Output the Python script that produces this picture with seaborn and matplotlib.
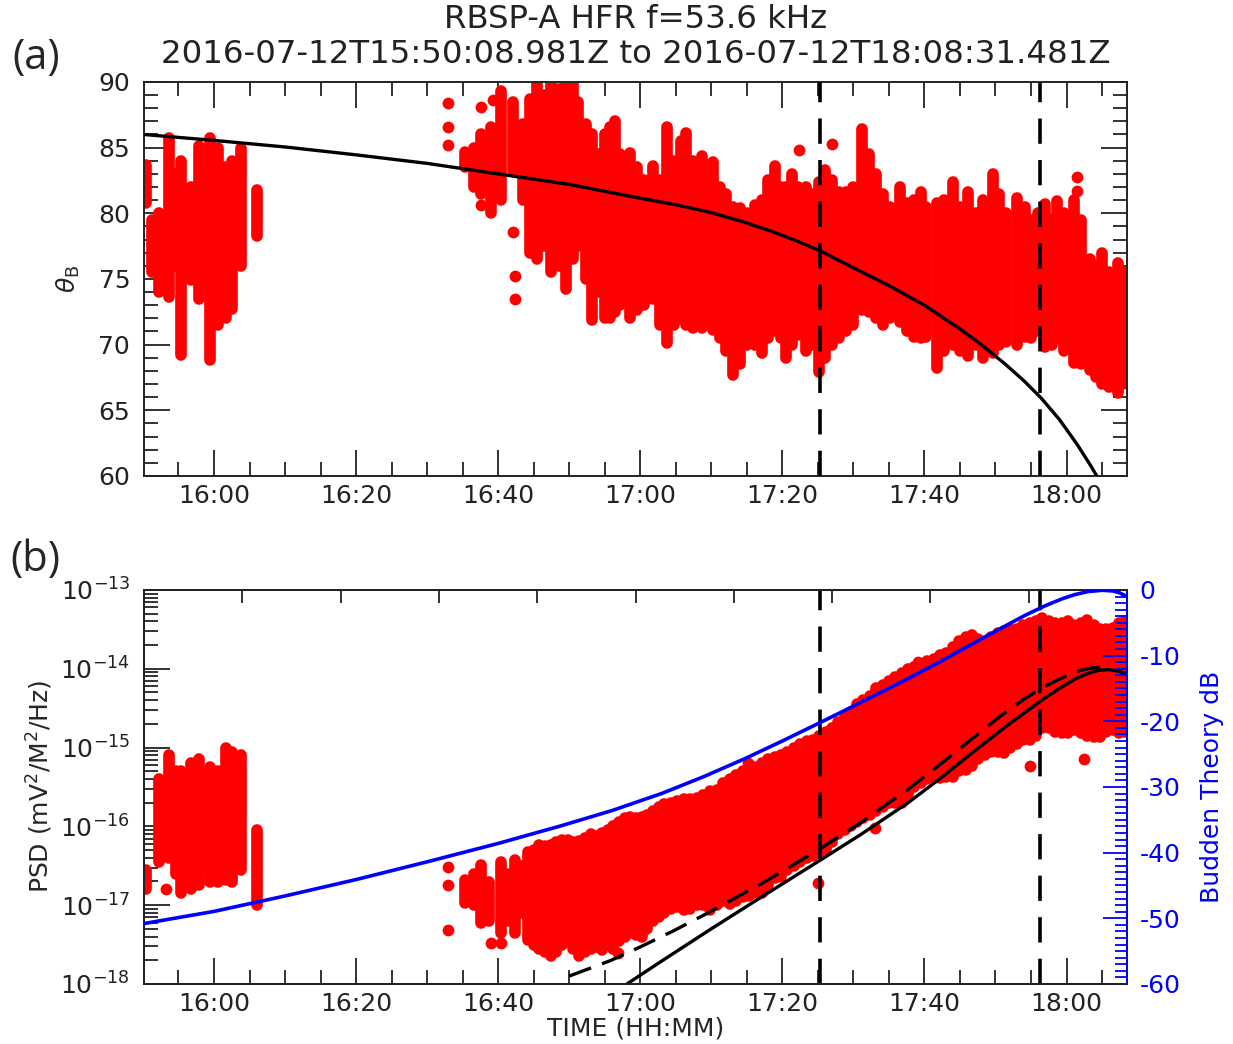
import numpy as np
import pandas as pd
import matplotlib
matplotlib.use("Agg")
import matplotlib.pyplot as plt
import matplotlib.dates as mdates
import matplotlib.ticker as mticker
import seaborn as sns

# =======================
# Data (times in minutes after 15:00 UT)
# =======================
DAY = pd.Timestamp("2016-07-12 15:00:00")
T_START = pd.Timestamp("2016-07-12 15:50:08.981")
T_END = pd.Timestamp("2016-07-12 18:08:31.481")

# panel (a): theta_B streaks (time, low, high)
THETA_COLS = [
    (50.4, 80.8, 83.7), (51.3, 75.5, 79.5), (52.2, 74.0, 80.0), (53.7, 73.6, 85.7),
    (54.6, 76.0, 83.0), (55.4, 69.2, 84.0), (56.8, 74.9, 82.0), (57.9, 73.5, 85.1),
    (58.6, 75.0, 83.0), (59.4, 68.8, 85.7), (60.6, 71.5, 85.0), (61.7, 72.0, 83.5),
    (62.6, 72.7, 84.0), (63.8, 76.0, 85.0), (66.0, 78.3, 81.8),
    (95.4, 83.5, 84.7), (96.6, 82.0, 85.0), (97.6, 81.5, 86.0), (99.0, 80.0, 86.6),
    (100.4, 81.0, 89.3), (102.1, 83.2, 88.5), (103.5, 81.0, 86.8), (104.5, 77.0, 88.7),
    (105.5, 76.5, 90.0), (106.5, 77.5, 89.0), (107.5, 75.5, 90.0), (108.5, 76.0, 89.5),
    (109.5, 74.2, 90.0), (110.5, 76.5, 90.0), (111.3, 77.5, 88.5), (112.3, 75.0, 86.8),
    (113.2, 71.9, 86.0), (114.2, 74.0, 84.5), (115.0, 72.0, 86.0), (115.8, 72.0, 86.6),
    (116.5, 72.5, 87.0), (117.2, 73.0, 84.5), (118.5, 72.0, 84.6), (119.5, 72.6, 83.5),
    (120.5, 73.0, 82.5), (121.8, 73.5, 83.6), (122.8, 71.5, 82.5), (123.8, 70.1, 86.6),
    (124.8, 71.5, 84.0), (125.8, 72.0, 85.5), (126.4, 71.5, 86.1), (127.4, 71.3, 84.0),
    (128.7, 71.3, 84.4), (129.5, 71.5, 82.5), (130.3, 71.1, 83.9), (131.2, 70.5, 82.0),
    (132.0, 69.5, 81.5), (133.1, 67.7, 80.5), (134.0, 68.5, 80.4), (135.0, 70.0, 80.0),
    (136.1, 70.0, 80.6), (137.1, 69.4, 81.0), (138.0, 70.5, 82.5), (138.9, 71.0, 83.6),
    (139.8, 70.5, 82.0), (140.5, 69.0, 82.0), (141.4, 70.0, 83.0), (142.2, 70.7, 82.0),
    (143.3, 69.5, 82.0), (144.2, 70.0, 81.5), (145.1, 67.9, 82.4), (146.0, 69.0, 83.3),
    (147.0, 70.0, 82.5), (148.0, 70.5, 81.6), (149.0, 71.0, 81.6), (150.0, 71.5, 82.0),
    (151.2, 72.6, 86.4), (152.2, 72.5, 84.5), (153.2, 72.0, 83.0), (154.2, 71.5, 81.5),
    (155.2, 72.0, 80.5), (156.5, 71.7, 82.0), (157.5, 71.0, 80.8), (158.5, 70.6, 81.0),
    (159.5, 70.5, 81.6), (160.2, 70.6, 80.5), (161.7, 68.2, 80.8), (162.8, 69.5, 81.0),
    (164.0, 70.0, 82.4), (165.0, 69.5, 80.5), (166.2, 69.1, 81.6), (167.2, 70.0, 80.0),
    (168.2, 69.0, 81.0), (169.6, 69.4, 83.0), (170.5, 70.0, 81.5), (171.5, 70.2, 80.0),
    (173.0, 70.0, 81.2), (174.2, 70.6, 80.5), (175.0, 70.5, 79.5), (176.0, 71.0, 80.0),
    (177.0, 69.8, 80.7), (178.0, 70.0, 79.6), (178.7, 70.5, 80.9), (179.7, 69.5, 80.0),
    (181.0, 68.6, 81.0), (182.0, 68.5, 79.5), (183.3, 68.1, 76.5), (184.2, 67.5, 76.0),
    (185.0, 67.0, 77.0), (186.0, 66.8, 75.5), (187.2, 66.3, 76.2), (188.0, 67.0, 75.5),
]
THETA_PTS_T = [92.9, 92.9, 92.9, 97.6, 97.6, 99.3, 102.1, 102.3, 102.3, 142.4, 147.0, 181.5, 181.5]
THETA_PTS_V = [88.4, 86.6, 85.2, 88.1, 80.6, 88.6, 78.6, 75.2, 73.5, 84.8, 85.3, 82.8, 81.7]

THETA_FIT_T = [50.15, 60.0, 70.0, 80.0, 90.0, 100.0, 110.0, 120.0, 125.0, 130.0, 134.5, 138.9,
               142.0, 145.5, 148.0, 150.0, 155.0, 160.0, 165.0, 168.0, 171.3, 174.0, 176.4,
               179.0, 181.5, 183.5, 185.0, 186.0]
THETA_FIT_V = [86.0, 85.55, 85.05, 84.45, 83.8, 83.0, 82.2, 81.15, 80.65, 80.05, 79.35, 78.55,
               77.9, 77.1, 76.4, 75.85, 74.5, 73.0, 71.2, 70.0, 68.55, 67.25, 65.95,
               64.3, 62.4, 60.7, 59.3, 58.3]

# panel (b): log10 PSD streaks (time, low, high)
PSD_COLS = [
    (50.4, -16.8, -16.55), (52.2, -16.45, -15.4), (53.7, -16.4, -15.1), (54.6, -16.6, -15.3),
    (55.4, -16.85, -15.3), (56.8, -16.8, -15.2), (57.9, -16.75, -15.15), (58.6, -16.5, -15.4),
    (59.4, -16.7, -15.25), (60.6, -16.7, -15.3), (61.7, -16.68, -15.0), (62.6, -16.7, -15.05),
    (63.8, -16.55, -15.1), (66.0, -17.0, -16.05),
    (95.4, -16.97, -16.68), (96.6, -17.0, -16.6), (97.6, -17.23, -16.49), (98.7, -17.2, -16.7),
    (100.4, -17.35, -16.45), (101.2, -17.2, -16.6), (102.4, -17.35, -16.43), (103.3, -17.1, -16.5),
    (104.2, -17.44, -16.32), (105.0, -17.5, -16.3), (105.8, -17.55, -16.24), (106.6, -17.6, -16.25),
    (107.4, -17.65, -16.24), (108.2, -17.6, -16.2), (109.0, -17.5, -16.17), (109.8, -17.44, -16.17),
    (110.6, -17.55, -16.2), (111.4, -17.65, -16.18), (112.2, -17.6, -16.15), (113.0, -17.55, -16.1),
    (113.8, -17.53, -16.12), (114.6, -17.57, -16.09), (115.4, -17.5, -16.05), (116.2, -17.55, -16.0),
    (117.0, -17.45, -15.95), (117.8, -17.4, -15.9), (118.6, -17.35, -15.88), (119.4, -17.38, -15.9),
    (120.2, -17.4, -15.88), (121.0, -17.3, -15.85), (121.8, -17.2, -15.8), (122.6, -17.15, -15.75),
    (123.4, -17.1, -15.72), (124.3, -17.05, -15.70), (125.2, -17.02, -15.68), (126.1, -17.06, -15.65),
    (127.0, -17.05, -15.65), (128.0, -17.0, -15.64), (128.9, -17.0, -15.6), (129.8, -17.06, -15.55),
    (130.8, -17.0, -15.54), (131.7, -16.95, -15.45), (132.6, -16.98, -15.4), (133.5, -16.95, -15.35),
    (134.4, -16.9, -15.3), (135.3, -16.88, -15.3), (136.2, -16.85, -15.25), (137.1, -16.85, -15.2),
    (138.0, -16.75, -15.15), (138.9, -16.65, -15.12), (139.8, -16.64, -15.1), (140.7, -16.55, -15.05),
    (141.6, -16.5, -15.0), (142.5, -16.45, -14.95), (143.4, -16.4, -14.92), (144.3, -16.38, -14.9),
    (145.2, -16.34, -14.85), (146.1, -16.3, -14.8), (147.0, -16.2, -14.75), (147.9, -16.1, -14.68),
    (148.8, -16.05, -14.6), (149.6, -16.0, -14.55), (150.5, -15.95, -14.45), (151.4, -15.9, -14.4),
    (152.3, -15.85, -14.35), (153.2, -15.8, -14.25), (154.1, -15.75, -14.2), (155.0, -15.7, -14.15),
    (155.9, -15.7, -14.1), (156.8, -15.7, -14.05), (157.7, -15.6, -14.0), (158.6, -15.5, -13.98),
    (159.5, -15.45, -13.95), (160.4, -15.4, -13.9), (161.3, -15.38, -13.88), (162.2, -15.38, -13.82),
    (163.1, -15.37, -13.8), (164.0, -15.37, -13.72), (164.9, -15.3, -13.65), (165.8, -15.28, -13.6),
    (166.7, -15.24, -13.57), (167.6, -15.15, -13.62), (168.5, -15.1, -13.65), (169.4, -15.05, -13.6),
    (170.3, -15.05, -13.55), (171.2, -15.07, -13.52), (172.1, -15.0, -13.5), (173.0, -14.95, -13.49),
    (173.9, -14.9, -13.45), (174.8, -14.9, -13.42), (175.7, -14.85, -13.4), (176.6, -14.75, -13.36),
    (177.5, -14.75, -13.4), (178.4, -14.8, -13.42), (179.3, -14.82, -13.42), (180.2, -14.82, -13.4),
    (181.1, -14.78, -13.45), (182.0, -14.82, -13.42), (182.9, -14.85, -13.38), (183.8, -14.86, -13.45),
    (184.7, -14.86, -13.5), (185.6, -14.8, -13.5), (186.5, -14.78, -13.48), (187.4, -14.82, -13.42),
    (188.3, -14.8, -13.4),
]
PSD_PTS_T = [53.3, 92.9, 92.9, 92.9, 99.0, 100.4, 116.8, 135.2, 145.0, 153.0, 159.1, 174.9, 182.5]
PSD_PTS_V = [-16.8, -16.51, -16.74, -17.31, -17.48, -17.48, -17.61, -15.2, -16.72, -16.02,
             -13.91, -15.24, -15.14]

# Budden theory curves
BUDDEN_T = [50.15, 60.0, 70.0, 80.0, 90.0, 100.0, 108.9, 116.0, 123.0, 129.0, 134.7, 140.0,
            145.5, 151.1, 157.7, 162.4, 167.1, 171.0, 174.1, 177.0, 179.5, 181.2, 183.0,
            185.0, 186.5, 187.5, 188.5]
BUDDEN_DB = [-50.8, -48.95, -46.6, -44.1, -41.4, -38.6, -35.9, -33.6, -31.0, -28.4, -25.7, -23.0,
             -20.1, -17.1, -13.5, -10.8, -8.0, -5.7, -3.9, -2.4, -1.3, -0.7, -0.25,
             -0.05, -0.15, -0.45, -1.0]

PSD_FIT_T = [116.0, 118.3, 123.0, 130.0, 137.0, 145.5, 151.1, 157.7, 162.4, 167.1, 171.8,
             176.5, 179.0, 181.2, 183.0, 184.5, 186.0, 187.3, 188.4]
PSD_FIT_LOG = [-18.13, -17.99, -17.71, -17.3, -16.9, -16.42, -16.1, -15.7, -15.38, -15.04,
               -14.71, -14.4, -14.25, -14.13, -14.06, -14.02, -14.01, -14.03, -14.06]

PSD_DASH_T = [110.0, 115.9, 120.0, 124.8, 129.5, 137.0, 141.7, 145.9, 151.1, 157.7, 162.4,
              167.1, 171.0, 174.1, 177.0, 180.2, 182.0, 183.5, 185.2]
PSD_DASH_LOG = [-17.9, -17.7, -17.53, -17.32, -17.1, -16.73, -16.48, -16.25, -15.95, -15.53,
                -15.2, -14.86, -14.58, -14.38, -14.22, -14.08, -14.02, -13.99, -13.98]

VLINE_T = [145.3, 176.2]

RED = "#ff0000"
BLUE = "#0000ff"
DOT_LW = 8.4


def to_num(minutes):
    times = DAY + pd.to_timedelta(np.asarray(minutes, dtype=float), unit="min")
    return mdates.date2num(times.to_pydatetime())


def draw_columns(ax, cols, log=False):
    t, lo, hi = (np.array(c) for c in zip(*cols))
    if log:
        lo, hi = 10.0 ** lo, 10.0 ** hi
    ax.vlines(to_num(t), lo, hi, colors=RED, linewidth=DOT_LW, capstyle="round", zorder=2)


def draw_points(ax, t, v):
    pts = pd.DataFrame({"time": to_num(t), "val": v})
    sns.scatterplot(data=pts, x="time", y="val", ax=ax, color=RED, s=72,
                    linewidth=0, zorder=3, legend=False)


def time_axis(ax):
    ax.xaxis.set_major_locator(mdates.MinuteLocator(byminute=[0, 20, 40]))
    ax.xaxis.set_minor_locator(mdates.MinuteLocator(byminute=range(0, 60, 5)))
    ax.xaxis.set_major_formatter(mdates.DateFormatter("%H:%M"))
    ax.set_xlim(mdates.date2num(T_START), mdates.date2num(T_END))


# =======================
# Figure
# =======================
sns.set_theme(style="ticks")
plt.rcParams["font.family"] = ["DejaVu Sans"]
plt.rcParams["axes.unicode_minus"] = False
plt.rcParams["axes.edgecolor"] = "#222222"
plt.rcParams["axes.linewidth"] = 1.4

fig = plt.figure(figsize=(12.33, 10.44), dpi=100)
ax1 = fig.add_axes([0.1168, 0.5441, 0.7973, 0.3774])
ax2 = fig.add_axes([0.1168, 0.0575, 0.7973, 0.3774])

# ---- panel (a)
draw_columns(ax1, THETA_COLS)
draw_points(ax1, THETA_PTS_T, THETA_PTS_V)
sns.lineplot(x=to_num(THETA_FIT_T), y=THETA_FIT_V, ax=ax1, color="black", lw=2.4,
             estimator=None, zorder=4)
for t in VLINE_T:
    ax1.axvline(to_num([t])[0], color="black", lw=2.6, linestyle=(0, (7, 4.5)), zorder=5)

time_axis(ax1)
ax1.set_ylim(60, 90)
ax1.yaxis.set_major_locator(mticker.MultipleLocator(5))
ax1.yaxis.set_minor_locator(mticker.MultipleLocator(1))
ax1.tick_params(which="both", direction="in", top=True, right=True, colors="#222222",
                labelsize=18, width=1.3)
ax1.tick_params(which="major", length=19)
ax1.tick_params(which="minor", length=10)
ax1.tick_params(axis="y", pad=10)
ax1.tick_params(axis="x", pad=6)
ax1.set_xlabel("")
ax1.set_ylabel(r"$\theta_{\rm B}$", fontsize=18, labelpad=12)

# ---- panel (b)
ax2.set_yscale("log")
draw_columns(ax2, PSD_COLS, log=True)
draw_points(ax2, PSD_PTS_T, 10.0 ** np.array(PSD_PTS_V))
sns.lineplot(x=to_num(PSD_FIT_T), y=10.0 ** np.array(PSD_FIT_LOG), ax=ax2, color="black",
             lw=2.4, estimator=None, zorder=4)
sns.lineplot(x=to_num(PSD_DASH_T), y=10.0 ** np.array(PSD_DASH_LOG), ax=ax2, color="black",
             lw=2.4, estimator=None, linestyle=(0, (7, 3.5)), zorder=4)
for t in VLINE_T:
    ax2.axvline(to_num([t])[0], color="black", lw=2.6, linestyle=(0, (7, 4.5)), zorder=5)

time_axis(ax2)
ax2.set_ylim(1e-18, 1e-13)
ax2.yaxis.set_major_locator(mticker.LogLocator(base=10, numticks=10))
ax2.yaxis.set_minor_locator(mticker.LogLocator(base=10, subs=np.arange(2, 10), numticks=20))
ax2.yaxis.set_minor_formatter(mticker.NullFormatter())
ax2.tick_params(which="both", direction="in", top=False, right=False, colors="#222222",
                labelsize=18, width=1.3)
ax2.tick_params(which="major", length=19)
ax2.tick_params(which="minor", length=10)
ax2.tick_params(axis="y", pad=10)
ax2.tick_params(axis="x", pad=6)
ax2.set_xlabel("TIME (HH:MM)", fontsize=18, labelpad=0)
ax2.set_ylabel("PSD (mV$^2$/M$^2$/Hz)", fontsize=18, labelpad=4)

# unlabelled top axis, ten equal divisions
top = ax2.secondary_xaxis("top")
x0, x1 = ax2.get_xlim()
top.set_xticks(np.linspace(x0, x1, 11))
top.set_xticklabels([])
top.tick_params(direction="in", length=9.5, width=1.3, colors="#222222")

# Budden theory on the right, in dB
axr = ax2.twinx()
sns.lineplot(x=to_num(BUDDEN_T), y=BUDDEN_DB, ax=axr, color=BLUE, lw=2.6,
             estimator=None, zorder=6)
axr.set_ylim(-60, 0)
axr.yaxis.set_major_locator(mticker.MultipleLocator(10))
axr.yaxis.set_minor_locator(mticker.MultipleLocator(1))
axr.tick_params(which="both", direction="in", colors=BLUE, labelsize=18, width=1.3, pad=9)
axr.tick_params(which="major", length=17)
axr.tick_params(which="minor", length=8.5)
axr.spines["right"].set_color(BLUE)
axr.set_ylabel("Budden Theory dB", fontsize=18, color=BLUE, labelpad=14)
axr.set_xlim(x0, x1)

# ---- titles and panel letters
xc = 0.1168 + 0.7973 / 2
fig.text(xc, 0.981, "RBSP-A HFR f=53.6 kHz", ha="center", va="center", fontsize=23.3,
         color="#222222")
fig.text(xc, 0.948, "2016-07-12T15:50:08.981Z to 2016-07-12T18:08:31.481Z", ha="center",
         va="center", fontsize=23.3, color="#222222")
fig.text(0.029, 0.944, "(a)", ha="center", va="center", fontsize=30, family="Open Sans")
fig.text(0.029, 0.4636, "(b)", ha="center", va="center", fontsize=30, family="Open Sans")

fig.savefig("out.png", dpi=100)
